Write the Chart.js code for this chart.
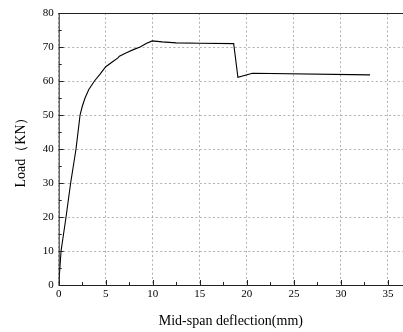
<!DOCTYPE html>
<html>
<head>
<meta charset="utf-8">
<script src="https://cdn.jsdelivr.net/npm/chart.js@4"></script>
<style>
html,body{margin:0;padding:0;background:#fff;}
#wrap{width:403px;height:332px;position:relative;}
</style>
</head>
<body>
<div id="wrap"><canvas id="c" width="403" height="332"></canvas></div>
<script>
const deflection = [0, 0.25, 0.78, 1.27, 1.84, 2.1, 2.27, 2.5, 2.8, 3.2, 3.8, 4.4, 5.0, 5.8, 6.3, 6.45, 7.2, 8.0, 8.65, 9.3, 9.95, 11.0, 12.5, 15.0, 18.6, 19.05, 20.6, 33.1];
const load =       [0, 10,   20,   30,   40,   46,  50,   52.5, 55,  57.5, 60,  62,  64.2, 65.8, 66.8, 67.3, 68.3, 69.3, 70,   71,  71.8,  71.5, 71.2, 71.1, 71.0, 61.1, 62.3, 61.8];
const xTicks = [0, 5, 10, 15, 20, 25, 30, 35];
const yTicks = [0, 10, 20, 30, 40, 50, 60, 70, 80];

const serif = "'Liberation Serif', 'Times New Roman', serif";

const frame = {
  id: 'frame',
  afterDraw(chart) {
    const ctx = chart.ctx, a = chart.chartArea;
    const xs = chart.scales.x, ys = chart.scales.y;
    ctx.save();
    ctx.strokeStyle = '#222';
    ctx.lineWidth = 1;
    ctx.setLineDash([]);
    ctx.beginPath();
    ctx.moveTo(a.left, a.top + 0.5);
    ctx.lineTo(a.right, a.top + 0.5);
    ctx.moveTo(a.left + 0.5, a.top);
    ctx.lineTo(a.left + 0.5, a.bottom);
    ctx.moveTo(a.left, a.bottom + 0.5);
    ctx.lineTo(a.right, a.bottom + 0.5);
    for (let v = 0; v <= 35; v += 2.5) {
      const px = Math.round(xs.getPixelForValue(v)) + 0.5;
      const len = (v % 5 === 0) ? 5 : 3;
      ctx.moveTo(px, a.bottom);
      ctx.lineTo(px, a.bottom - len);
    }
    for (let v = 0; v <= 80; v += 5) {
      const py = Math.round(ys.getPixelForValue(v)) + 0.5;
      const len = (v % 10 === 0) ? 5 : 3;
      ctx.moveTo(a.left, py);
      ctx.lineTo(a.left + len, py);
    }
    ctx.stroke();
    ctx.restore();
  }
};

new Chart(document.getElementById('c'), {
  type: 'scatter',
  data: {
    datasets: [{
      data: deflection.map((x, i) => ({x: x, y: load[i]})),
      showLine: true,
      borderColor: '#000',
      borderWidth: 1.1,
      pointRadius: 0,
      tension: 0,
      fill: false
    }]
  },
  options: {
    responsive: false,
    animation: false,
    layout: {padding: {top: 13, right: 0, left: 0, bottom: 0}},
    plugins: {legend: {display: false}, tooltip: {enabled: false}},
    scales: {
      x: {
        type: 'linear',
        min: 0, max: 36.6,
        afterFit: s => { s.height = 47; },
        afterBuildTicks: s => { s.ticks = xTicks.map(v => ({value: v})); },
        ticks: {includeBounds: false, stepSize: 5, padding: 3, color: '#000', font: {family: serif, size: 11}, maxRotation: 0},
        grid: {drawTicks: false, color: '#b0b0b0', lineWidth: 1},
        border: {display: false, dash: [2, 2.4]},
        title: {display: true, text: 'Mid-span deflection(mm)', color: '#000', font: {family: serif, size: 14}, padding: {top: 0, bottom: 2.6}}
      },
      y: {
        type: 'linear',
        min: 0, max: 80,
        afterFit: s => { s.width = 58.7; },
        afterBuildTicks: s => { s.ticks = yTicks.map(v => ({value: v})); },
        ticks: {includeBounds: false, stepSize: 10, padding: 5, color: '#000', font: {family: serif, size: 11}},
        grid: {drawTicks: false, color: '#b0b0b0', lineWidth: 1},
        border: {display: false, dash: [2, 2.4]},
        title: {display: true, text: 'Load（KN）', color: '#000', font: {family: serif, size: 14}, padding: {top: 12.6, bottom: 0}}
      }
    }
  },
  plugins: [frame]
});
</script>
</body>
</html>
